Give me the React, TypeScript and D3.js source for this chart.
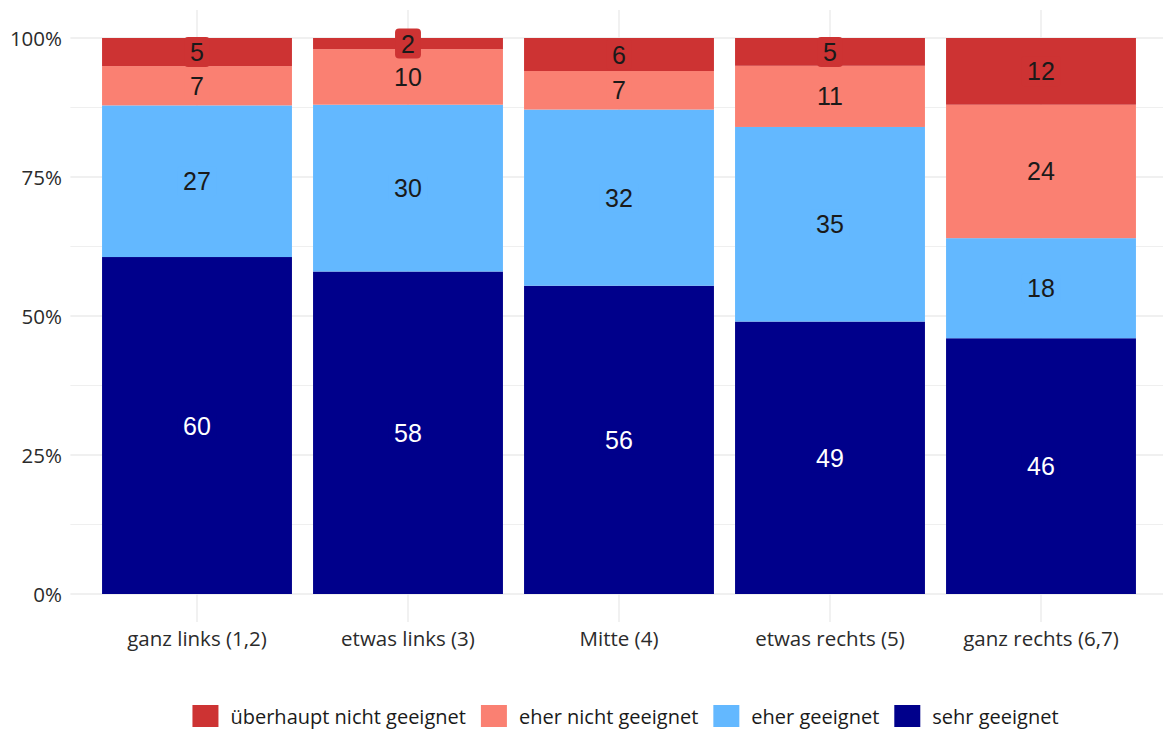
import React, { useEffect, useRef } from "react";
import * as d3 from "d3";

// Political self-placement groups (x axis)
const categories = [
  "ganz links (1,2)",
  "etwas links (3)",
  "Mitte (4)",
  "etwas rechts (5)",
  "ganz rechts (6,7)",
];

// Response categories, stacked from the bottom up
const responses = [
  "sehr geeignet",
  "eher geeignet",
  "eher nicht geeignet",
  "überhaupt nicht geeignet",
];

// Shares in percent per group
const sehrGeeignet = [60, 58, 56, 49, 46];
const eherGeeignet = [27, 30, 32, 35, 18];
const eherNichtGeeignet = [7, 10, 7, 11, 24];
const ueberhauptNichtGeeignet = [5, 2, 6, 5, 12];

const responseColors = ["#00008B", "#63B8FF", "#FA8072", "#CD3333"];
const labelColors = ["#FFFFFF", "#1A1A1A", "#1A1A1A", "#1A1A1A"];

const yTicks = [0, 0.25, 0.5, 0.75, 1];
const yMinorTicks = [0.125, 0.375, 0.625, 0.875];

const W = 1163;
const H = 729;
const AXIS_FONT = "'Open Sans', 'Noto Sans', sans-serif";
const LABEL_FONT = "'Liberation Sans', Arial, sans-serif";

export default function App() {
  const ref = useRef<SVGSVGElement | null>(null);

  useEffect(() => {
    const svg = d3.select(ref.current);
    svg.selectAll("*").remove();

    const panel = { left: 70.4, right: 1167.6, top: 10, bottom: 622 };

    const x = d3
      .scalePoint<string>()
      .domain(categories)
      .range([panel.left, panel.right])
      .padding(0.6);
    const barWidth = x.step() * 0.9;

    const y = d3.scaleLinear().domain([0, 1]).range([594, 38]);

    const valueSeries = [sehrGeeignet, eherGeeignet, eherNichtGeeignet, ueberhauptNichtGeeignet];
    const rows = categories.map((c, i) => {
      const r: Record<string, any> = { category: c };
      responses.forEach((k, j) => (r[k] = valueSeries[j][i]));
      return r;
    });

    const stacked = d3
      .stack<Record<string, any>>()
      .keys(responses)
      .offset(d3.stackOffsetExpand)(rows);

    // grid
    const grid = svg.append("g");
    grid
      .selectAll("line.minor")
      .data(yMinorTicks)
      .join("line")
      .attr("x1", panel.left)
      .attr("x2", W)
      .attr("y1", (d) => y(d))
      .attr("y2", (d) => y(d))
      .attr("stroke", "#EBEBEB")
      .attr("stroke-width", 0.8);
    grid
      .selectAll("line.major")
      .data(yTicks)
      .join("line")
      .attr("x1", panel.left)
      .attr("x2", W)
      .attr("y1", (d) => y(d))
      .attr("y2", (d) => y(d))
      .attr("stroke", "#EBEBEB")
      .attr("stroke-width", 1.4);
    grid
      .selectAll("line.vmajor")
      .data(categories)
      .join("line")
      .attr("x1", (d) => x(d)!)
      .attr("x2", (d) => x(d)!)
      .attr("y1", panel.top)
      .attr("y2", panel.bottom)
      .attr("stroke", "#EBEBEB")
      .attr("stroke-width", 1.4);

    // bars
    const bars = svg.append("g");
    stacked.forEach((s, j) => {
      bars
        .append("g")
        .selectAll("rect")
        .data(s)
        .join("rect")
        .attr("x", (d) => x(d.data.category)! - barWidth / 2)
        .attr("width", barWidth)
        .attr("y", (d) => y(d[1]))
        .attr("height", (d) => y(d[0]) - y(d[1]))
        .attr("fill", responseColors[j]);
    });

    // value labels with filled boxes
    const labels = svg.append("g");
    stacked.forEach((s, j) => {
      s.forEach((d, i) => {
        const cx = x(d.data.category)!;
        const cy = y((d[0] + d[1]) / 2);
        const g = labels.append("g");
        const box = g.append("rect").attr("fill", responseColors[j]);
        const t = g
          .append("text")
          .attr("x", cx)
          .attr("y", cy)
          .attr("text-anchor", "middle")
          .attr("dominant-baseline", "central")
          .attr("font-family", LABEL_FONT)
          .attr("font-size", 25)
          .attr("fill", labelColors[j])
          .text(String(valueSeries[j][i]));
        const tw = (t.node() as SVGTextElement).getComputedTextLength();
        const bw = tw + 12;
        const bh = 30;
        box
          .attr("x", cx - bw / 2)
          .attr("y", cy - bh / 2)
          .attr("width", bw)
          .attr("height", bh)
          .attr("rx", 4);
      });
    });

    // y axis labels
    svg
      .append("g")
      .selectAll("text")
      .data(yTicks)
      .join("text")
      .attr("x", 62)
      .attr("y", (d) => y(d))
      .attr("text-anchor", "end")
      .attr("dominant-baseline", "central")
      .attr("font-family", AXIS_FONT)
      .attr("font-size", 20.5)
      .attr("fill", "#2B2B2B")
      .text((d) => d3.format(".0%")(d));

    // x axis labels
    svg
      .append("g")
      .selectAll("text")
      .data(categories)
      .join("text")
      .attr("x", (d) => x(d)!)
      .attr("y", 638)
      .attr("text-anchor", "middle")
      .attr("dominant-baseline", "central")
      .attr("font-family", AXIS_FONT)
      .attr("font-size", 20.5)
      .attr("fill", "#2B2B2B")
      .text((d) => d);

    // legend (reversed order, top category first)
    const legend = svg.append("g");
    const keyW = 26;
    const keyH = 22;
    const keyGap = 12;
    const itemGap = 15;
    const legendY = 716;
    const order = [3, 2, 1, 0];
    const items = order.map((j) => {
      const g = legend.append("g");
      g.append("rect")
        .attr("width", keyW)
        .attr("height", keyH)
        .attr("y", legendY - keyH / 2)
        .attr("fill", responseColors[j]);
      const t = g
        .append("text")
        .attr("x", keyW + keyGap)
        .attr("y", legendY)
        .attr("dominant-baseline", "central")
        .attr("font-family", AXIS_FONT)
        .attr("font-size", 20)
        .attr("fill", "#1A1A1A")
        .text(responses[j]);
      const tw = (t.node() as SVGTextElement).getComputedTextLength();
      return { g, w: keyW + keyGap + tw };
    });
    const total = d3.sum(items, (d) => d.w) + itemGap * (items.length - 1);
    let cursor = 625.5 - total / 2;
    items.forEach((it) => {
      it.g.attr("transform", `translate(${cursor},0)`);
      cursor += it.w + itemGap;
    });
  }, []);

  return (
    <svg
      ref={ref}
      width={W}
      height={H}
      style={{ position: "absolute", left: 0, top: 0, background: "#FFFFFF" }}
    />
  );
}
